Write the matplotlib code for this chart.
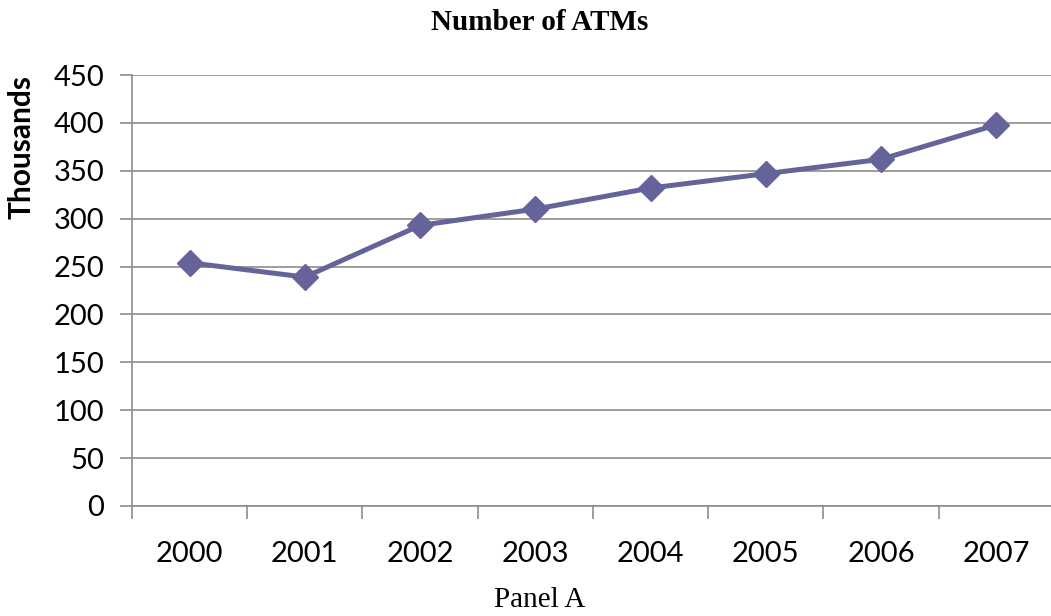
import matplotlib.pyplot as plt

years = ["2000", "2001", "2002", "2003", "2004", "2005", "2006", "2007"]
atms = [254, 239, 293, 310, 332, 347, 362, 398]

line_color = "#64649a"
grid_color = "#8c8c8c"

fig = plt.figure(figsize=(10.51, 6.16), dpi=100)
ax = fig.add_axes([132 / 1051, 1 - 506 / 616, (1054 - 132) / 1051, (506 - 75) / 616])

x = range(len(years))
ax.plot(x, atms, color=line_color, linewidth=3.6, marker="D", markersize=13,
        markerfacecolor=line_color, markeredgecolor=line_color, clip_on=False, zorder=3)

ax.set_xlim(-0.5, len(years) - 0.5)
ax.set_ylim(0, 450)
ax.set_yticks(range(0, 451, 50))
ax.yaxis.grid(True, color=grid_color, linewidth=1.2)
ax.set_axisbelow(True)

# tick marks sit between categories, labels at the centres
ax.set_xticks([i + 0.5 for i in range(-1, len(years))])
ax.set_xticklabels([])
ax.set_xticks(list(x), minor=True)
ax.set_xticklabels(years, minor=True, fontfamily="Lato", fontsize=21)
ax.tick_params(axis="x", which="major", direction="out", length=9, color=grid_color, width=1.2)
ax.tick_params(axis="x", which="minor", length=0, pad=25)
ax.tick_params(axis="y", direction="out", length=9, color=grid_color, width=1.2, pad=11)
for lbl in ax.get_yticklabels():
    lbl.set_fontfamily("Lato")
    lbl.set_fontsize(21)

for s in ["top", "right"]:
    ax.spines[s].set_visible(False)
for s in ["left", "bottom"]:
    ax.spines[s].set_color(grid_color)
    ax.spines[s].set_linewidth(1.2)

fig.text(540 / 1051, 1 - 22 / 616, "Number of ATMs", ha="center", va="center",
         fontfamily="Liberation Serif", fontweight="bold", fontsize=21)
fig.text(540 / 1051, 1 - 600 / 616, "Panel A", ha="center", va="center",
         fontfamily="Liberation Serif", fontsize=21)
fig.text(22 / 1051, 1 - 147 / 616, "Thousands", ha="center", va="center", rotation=90,
         fontfamily="Lato", fontweight="bold", fontsize=21.5)

fig.savefig("out.png", dpi=100)
